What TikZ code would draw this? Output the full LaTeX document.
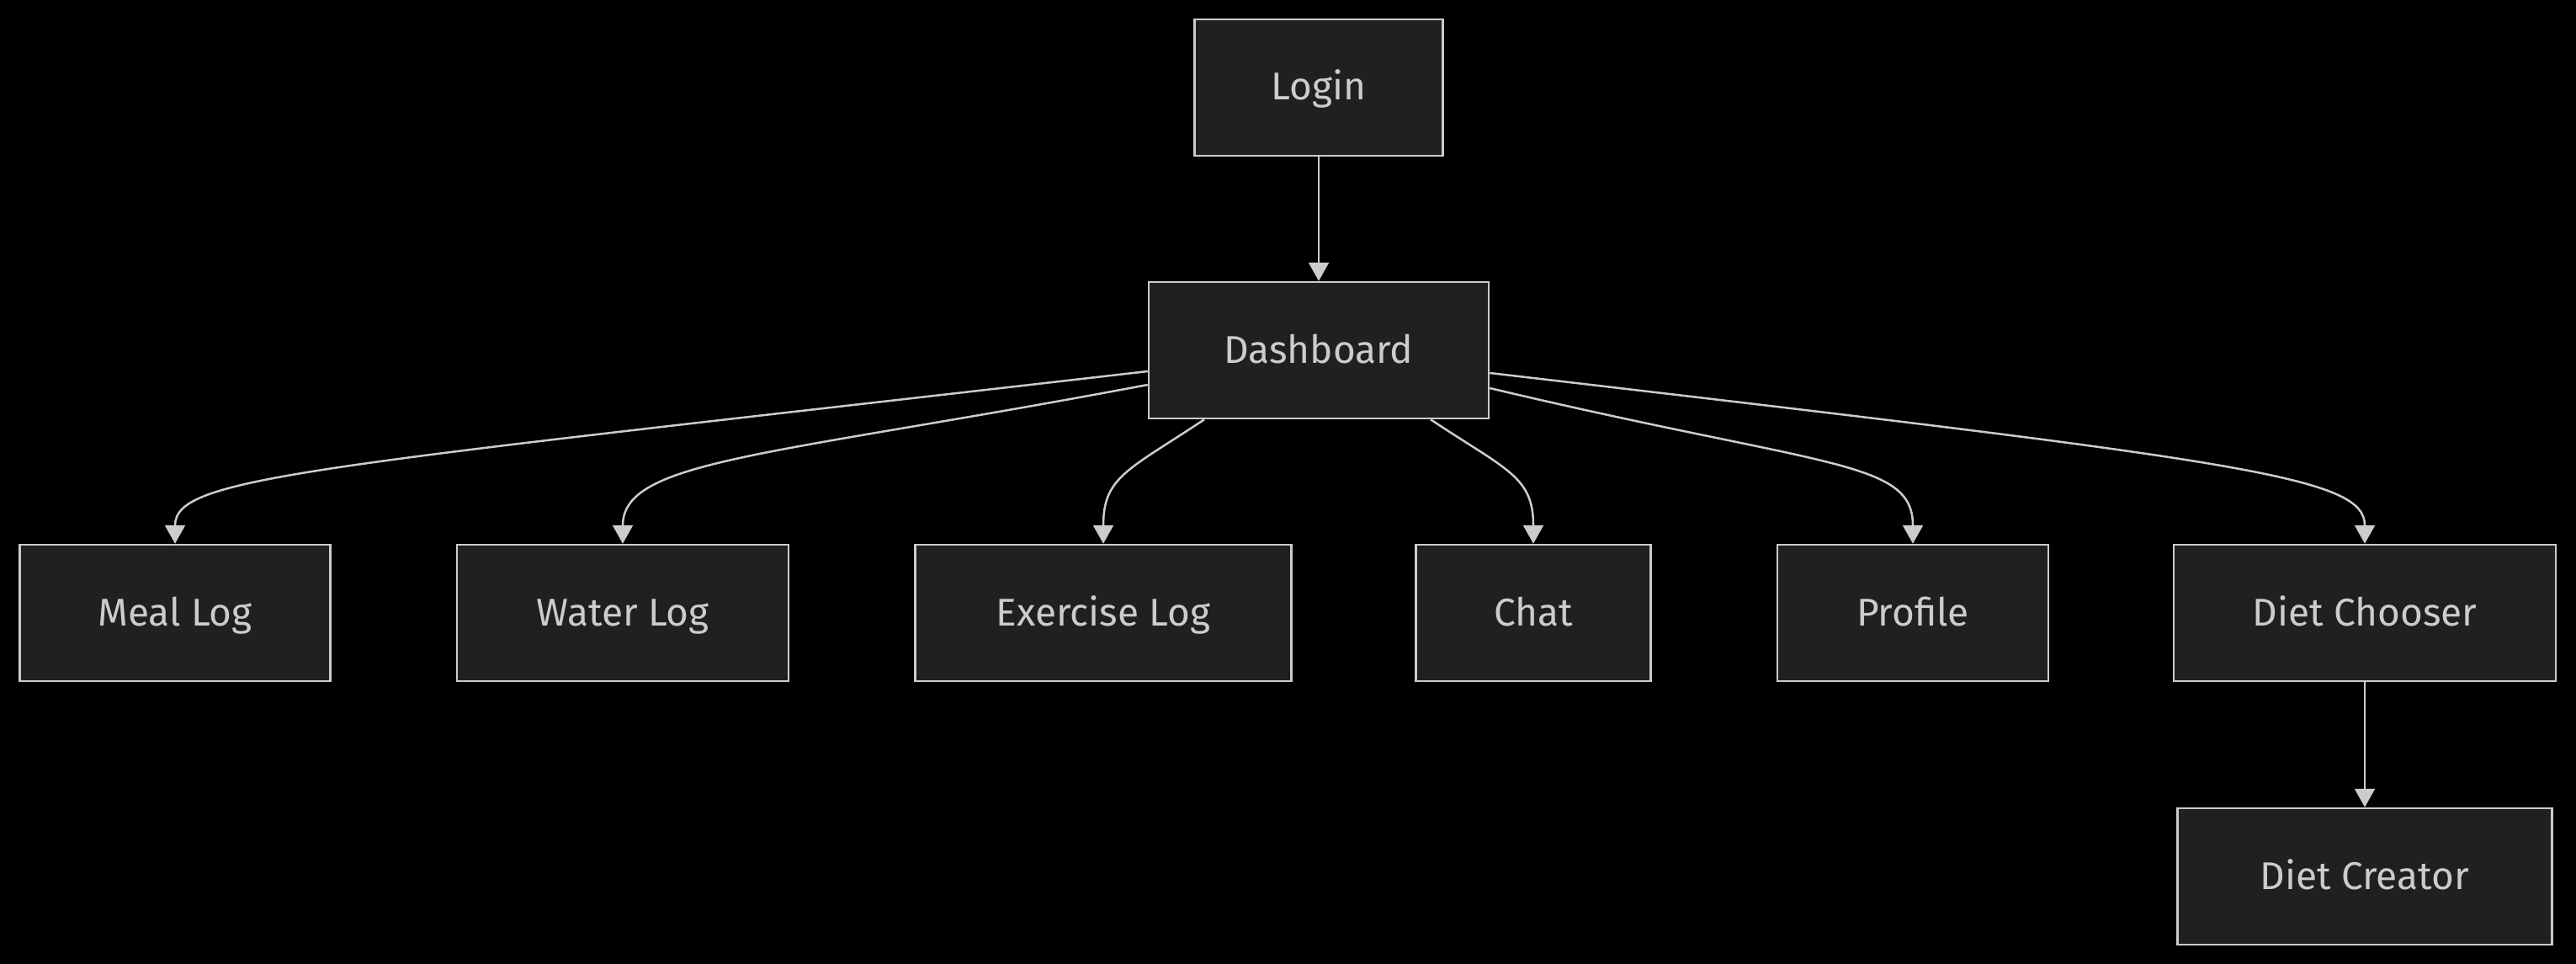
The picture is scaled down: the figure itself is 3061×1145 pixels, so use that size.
\documentclass[tikz,border=0pt]{standalone}
\usepackage{fontspec}
\setmainfont{Fira Sans}
\usepackage{tikz}
\usetikzlibrary{arrows.meta, calc}
\definecolor{boxfill}{HTML}{1F2020}
\definecolor{boxline}{HTML}{CCCCCC}
\tikzset{
  screen/.style={draw=boxline, fill=boxfill, line width=2.5pt, text=boxline,
    font=\fontsize{46}{50}\selectfont, minimum height=162pt, inner sep=0pt,
    text height=34pt, text depth=4pt},
  edge/.style={draw=boxline, line width=2.5pt,
    -{Triangle[length=22pt, width=24pt]}}
}

\begin{document}
\begin{tikzpicture}[x=1pt, y=1pt]
\fill[black] (0,0) rectangle (3061,-1145);
\useasboundingbox (0,0) rectangle (3061,-1145);
% pages
\node[screen, minimum width=295pt] (login) at (1567,-104) {Login};
\node[screen, minimum width=404pt] (dash) at (1567,-416) {Dashboard};
\node[screen, minimum width=369pt] (meal) at (208,-728) {Meal Log};
\node[screen, minimum width=394pt] (water) at (740,-728) {Water Log};
\node[screen, minimum width=447pt] (exer) at (1311,-728) {Exercise Log};
\node[screen, minimum width=279pt] (chat) at (1822,-728) {Chat};
\node[screen, minimum width=322pt] (profile) at (2273,-728) {Profile};
\node[screen, minimum width=454pt] (chooser) at (2810,-728) {Diet Chooser};
\node[screen, minimum width=445pt] (creator) at (2810,-1041) {Diet Creator};
% links
\draw[edge] (login) -- (dash);
\draw[edge] ([yshift=-25pt]dash.west) .. controls +(-1000,-115) and +(0,80) .. (meal.north);
\draw[edge] ([yshift=-41pt]dash.west) .. controls +(-450,-85) and +(0,100) .. (water.north);
\draw[edge] ([xshift=-136pt]dash.south) .. controls +(-90,-60) and +(0,80) .. (exer.north);
\draw[edge] ([xshift=133pt]dash.south) .. controls +(90,-60) and +(0,80) .. (chat.north);
\draw[edge] ([yshift=-45pt]dash.east) .. controls +(400,-95) and +(0,100) .. (profile.north);
\draw[edge] ([yshift=-27pt]dash.east) .. controls +(900,-105) and +(0,80) .. (chooser.north);
\draw[edge] (chooser) -- (creator);
\end{tikzpicture}
\end{document}
